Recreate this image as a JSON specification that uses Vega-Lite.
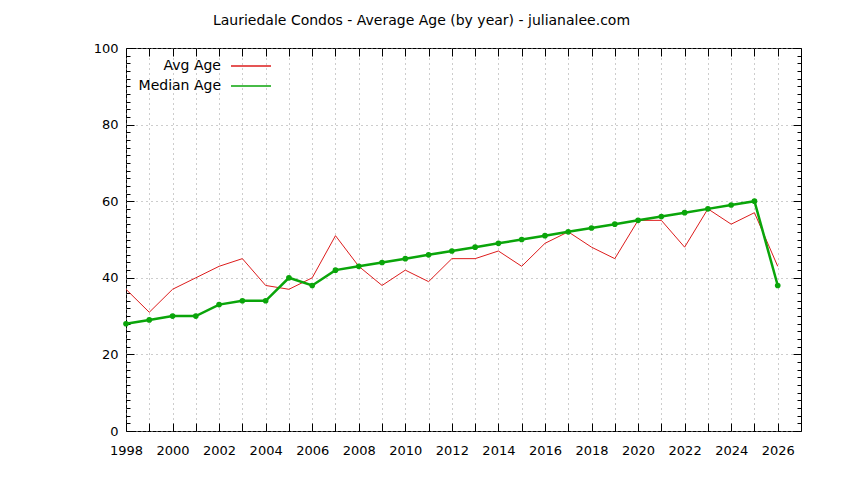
{
  "$schema": "https://vega.github.io/schema/vega-lite/v6.json",
  "width": 675,
  "height": 383,
  "autosize": "none",
  "padding": {"left": 126, "top": 48, "right": 43, "bottom": 49},
  "background": "white",
  "title": {
    "text": "Lauriedale Condos - Average Age (by year) - julianalee.com",
    "font": "DejaVu Sans",
    "fontSize": 14,
    "fontWeight": "normal",
    "color": "black",
    "anchor": "middle",
    "dx": -42,
    "offset": 14
  },
  "data": {
    "values": [
      {"year": 1998, "series": "Avg Age", "age": 37},
      {"year": 1999, "series": "Avg Age", "age": 31},
      {"year": 2000, "series": "Avg Age", "age": 37},
      {"year": 2001, "series": "Avg Age", "age": 40},
      {"year": 2002, "series": "Avg Age", "age": 43},
      {"year": 2003, "series": "Avg Age", "age": 45},
      {"year": 2004, "series": "Avg Age", "age": 38},
      {"year": 2005, "series": "Avg Age", "age": 37},
      {"year": 2006, "series": "Avg Age", "age": 40},
      {"year": 2007, "series": "Avg Age", "age": 51},
      {"year": 2008, "series": "Avg Age", "age": 43},
      {"year": 2009, "series": "Avg Age", "age": 38},
      {"year": 2010, "series": "Avg Age", "age": 42},
      {"year": 2011, "series": "Avg Age", "age": 39},
      {"year": 2012, "series": "Avg Age", "age": 45},
      {"year": 2013, "series": "Avg Age", "age": 45},
      {"year": 2014, "series": "Avg Age", "age": 47},
      {"year": 2015, "series": "Avg Age", "age": 43},
      {"year": 2016, "series": "Avg Age", "age": 49},
      {"year": 2017, "series": "Avg Age", "age": 52},
      {"year": 2018, "series": "Avg Age", "age": 48},
      {"year": 2019, "series": "Avg Age", "age": 45},
      {"year": 2020, "series": "Avg Age", "age": 55},
      {"year": 2021, "series": "Avg Age", "age": 55},
      {"year": 2022, "series": "Avg Age", "age": 48},
      {"year": 2023, "series": "Avg Age", "age": 58},
      {"year": 2024, "series": "Avg Age", "age": 54},
      {"year": 2025, "series": "Avg Age", "age": 57},
      {"year": 2026, "series": "Avg Age", "age": 43},
      {"year": 1998, "series": "Median Age", "age": 28},
      {"year": 1999, "series": "Median Age", "age": 29},
      {"year": 2000, "series": "Median Age", "age": 30},
      {"year": 2001, "series": "Median Age", "age": 30},
      {"year": 2002, "series": "Median Age", "age": 33},
      {"year": 2003, "series": "Median Age", "age": 34},
      {"year": 2004, "series": "Median Age", "age": 34},
      {"year": 2005, "series": "Median Age", "age": 40},
      {"year": 2006, "series": "Median Age", "age": 38},
      {"year": 2007, "series": "Median Age", "age": 42},
      {"year": 2008, "series": "Median Age", "age": 43},
      {"year": 2009, "series": "Median Age", "age": 44},
      {"year": 2010, "series": "Median Age", "age": 45},
      {"year": 2011, "series": "Median Age", "age": 46},
      {"year": 2012, "series": "Median Age", "age": 47},
      {"year": 2013, "series": "Median Age", "age": 48},
      {"year": 2014, "series": "Median Age", "age": 49},
      {"year": 2015, "series": "Median Age", "age": 50},
      {"year": 2016, "series": "Median Age", "age": 51},
      {"year": 2017, "series": "Median Age", "age": 52},
      {"year": 2018, "series": "Median Age", "age": 53},
      {"year": 2019, "series": "Median Age", "age": 54},
      {"year": 2020, "series": "Median Age", "age": 55},
      {"year": 2021, "series": "Median Age", "age": 56},
      {"year": 2022, "series": "Median Age", "age": 57},
      {"year": 2023, "series": "Median Age", "age": 58},
      {"year": 2024, "series": "Median Age", "age": 59},
      {"year": 2025, "series": "Median Age", "age": 60},
      {"year": 2026, "series": "Median Age", "age": 38}
    ]
  },
  "layer": [
    {
      "layer": [
        {
          "transform": [{"filter": "datum.series === 'Avg Age'"}],
          "mark": {"type": "line", "strokeWidth": 1}
        },
        {
          "transform": [{"filter": "datum.series === 'Median Age'"}],
          "mark": {"type": "line", "strokeWidth": 2.5, "point": {"filled": true, "size": 32}}
        }
      ],
      "encoding": {
        "x": {
          "field": "year", "type": "quantitative",
          "scale": {"domain": [1998, 2027], "nice": false, "zero": false},
          "axis": {
            "title": null,
            "values": [1998, 1999, 2000, 2001, 2002, 2003, 2004, 2005, 2006, 2007, 2008, 2009, 2010, 2011, 2012, 2013, 2014, 2015, 2016, 2017, 2018, 2019, 2020, 2021, 2022, 2023, 2024, 2025, 2026],
            "format": "d",
            "labelExpr": "datum.value % 2 === 0 ? datum.label : ''",
            "labelOverlap": false,
            "labelFlush": false,
            "tickSize": -8,
            "labelPadding": 21,
            "grid": true
          }
        },
        "y": {
          "field": "age", "type": "quantitative",
          "scale": {"domain": [0, 100], "nice": false},
          "axis": {
            "title": null,
            "values": [0, 2, 4, 6, 8, 10, 12, 14, 16, 18, 20, 22, 24, 26, 28, 30, 32, 34, 36, 38, 40, 42, 44, 46, 48, 50, 52, 54, 56, 58, 60, 62, 64, 66, 68, 70, 72, 74, 76, 78, 80, 82, 84, 86, 88, 90, 92, 94, 96, 98, 100],
            "labelExpr": "datum.value % 20 === 0 ? datum.label : ''",
            "labelOverlap": false,
            "labelFlush": false,
            "tickSize": {"condition": {"test": "datum.value % 20 === 0", "value": -8}, "value": -4},
            "gridOpacity": {"condition": {"test": "datum.value % 20 === 0", "value": 1}, "value": 0},
            "labelPadding": 16,
            "grid": true
          }
        },
        "color": {
          "field": "series", "type": "nominal",
          "scale": {"domain": ["Avg Age", "Median Age"], "range": ["#dd1c1c", "#0aa50a"]},
          "legend": {
            "title": null,
            "orient": "none",
            "legendX": 114,
            "legendY": 7,
            "symbolType": "M-2,0H2",
            "symbolSize": 400,
            "symbolStrokeWidth": 1.5,
            "labelAlign": "right",
            "labelOffset": -41,
            "labelFont": "DejaVu Sans",
            "labelFontSize": 14,
            "labelColor": "black",
            "rowPadding": 2
          }
        }
      }
    },
    {
      "mark": {"type": "point", "opacity": 0},
      "encoding": {
        "x": {
          "field": "year", "type": "quantitative",
          "axis": {
            "orient": "top", "title": null, "labels": false, "grid": false,
            "values": [1998, 1999, 2000, 2001, 2002, 2003, 2004, 2005, 2006, 2007, 2008, 2009, 2010, 2011, 2012, 2013, 2014, 2015, 2016, 2017, 2018, 2019, 2020, 2021, 2022, 2023, 2024, 2025, 2026],
            "tickSize": -8
          }
        },
        "y": {
          "field": "age", "type": "quantitative",
          "axis": {
            "orient": "right", "title": null, "labels": false, "grid": false,
            "values": [0, 2, 4, 6, 8, 10, 12, 14, 16, 18, 20, 22, 24, 26, 28, 30, 32, 34, 36, 38, 40, 42, 44, 46, 48, 50, 52, 54, 56, 58, 60, 62, 64, 66, 68, 70, 72, 74, 76, 78, 80, 82, 84, 86, 88, 90, 92, 94, 96, 98, 100],
            "tickSize": {"condition": {"test": "datum.value % 20 === 0", "value": -8}, "value": -4}
          }
        }
      }
    }
  ],
  "resolve": {"axis": {"x": "independent", "y": "independent"}},
  "config": {
    "view": {"stroke": "black", "strokeWidth": 1},
    "axis": {
      "domain": false,
      "tickColor": "black",
      "tickWidth": 1,
      "labelFont": "DejaVu Sans",
      "labelFontSize": 13,
      "labelColor": "black",
      "gridColor": "#9a9a9a",
      "gridDash": [1, 4],
      "gridWidth": 1
    }
  }
}
